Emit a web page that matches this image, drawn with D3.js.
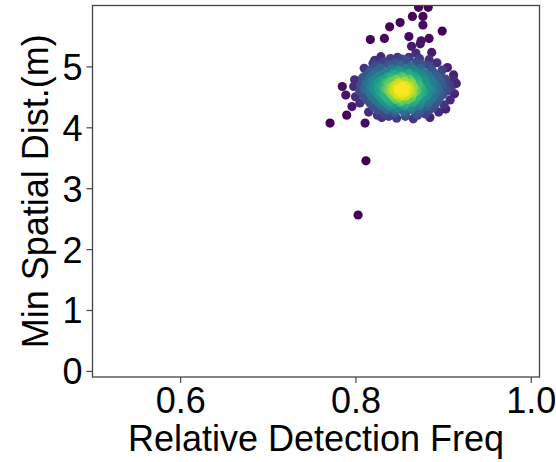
<!DOCTYPE html>
<html>
<head>
<meta charset="utf-8">
<script src="https://cdn.jsdelivr.net/npm/d3@7"></script>
<style>
  html, body { margin: 0; padding: 0; background: #fff; }
  svg { display: block; font-family: "Liberation Sans", Arial, Helvetica, sans-serif; }
</style>
</head>
<body>
<svg id="chart" width="556" height="462"></svg>
<script>
// Axis ticks
const xTicks = [0.6, 0.8, 1.0];
const yTicks = [0, 1, 2, 3, 4, 5];

// Isolated runs above / around the main cluster: [relative detection freq, min spatial dist]
const strayPoints = [
  [0.872,5.97],[0.883,5.97],[0.865,5.82],[0.877,5.82],[0.851,5.72],[0.839,5.65],
  [0.877,5.68],[0.899,5.58],[0.817,5.44],[0.833,5.46],[0.861,5.49],[0.875,5.42],
  [0.884,5.46],[0.864,5.33],[0.874,5.37],[0.869,5.22],[0.887,5.23],[0.829,5.16],
  [0.840,5.13],[0.853,5.12],[0.861,5.15],[0.884,5.11],[0.899,4.94],[0.817,4.91],
  [0.785,4.67],[0.798,4.67],[0.789,4.53],[0.808,4.81],[0.796,4.34],[0.790,4.20],
  [0.771,4.07],[0.811,4.07],[0.912,4.78],[0.901,4.37],[0.909,4.64],[0.825,4.20],
  [0.838,4.18],[0.857,4.18],[0.871,4.20],[0.812,3.45],[0.803,2.56]
];

// Sparse runs on the rim of the main cluster
const rimPoints = [
  [0.822,5.10],[0.848,5.15],[0.873,5.13],[0.893,5.06],[0.905,4.98],[0.912,4.86],
  [0.915,4.72],[0.913,4.55],[0.908,4.45],[0.903,4.30],[0.895,4.25],[0.885,4.16],
  [0.866,4.14],[0.847,4.15],[0.830,4.16],[0.815,4.25],[0.805,4.40],[0.800,4.50],
  [0.799,4.78],[0.810,4.97],[0.820,5.05]
];

// Runs inside the main cluster
const corePoints = [
  [0.832,5.08],[0.845,5.06],[0.858,5.09],[0.869,5.07],
  [0.824,5.01],[0.838,5.03],[0.851,5.02],[0.863,5.00],[0.876,5.03],[0.884,5.01],
  [0.818,4.95],[0.829,4.97],[0.841,4.96],[0.849,4.94],[0.858,4.97],[0.866,4.95],[0.874,4.97],[0.887,4.95],
  [0.815,4.89],[0.823,4.91],[0.834,4.90],[0.843,4.88],[0.852,4.91],[0.861,4.89],[0.869,4.91],[0.878,4.89],[0.889,4.90],[0.897,4.88],
  [0.811,4.84],[0.820,4.86],[0.828,4.85],[0.837,4.83],[0.845,4.86],[0.853,4.84],[0.860,4.86],[0.867,4.84],[0.875,4.86],[0.883,4.85],[0.892,4.84],
  [0.808,4.79],[0.816,4.81],[0.824,4.80],[0.832,4.78],[0.840,4.81],[0.847,4.79],[0.855,4.81],[0.862,4.79],[0.870,4.81],[0.878,4.80],[0.886,4.78],[0.895,4.81],[0.903,4.79],
  [0.812,4.74],[0.819,4.76],[0.827,4.75],[0.835,4.73],[0.842,4.76],[0.849,4.74],[0.856,4.76],[0.864,4.74],[0.871,4.76],[0.880,4.75],[0.888,4.73],[0.897,4.76],
  [0.806,4.69],[0.814,4.71],[0.822,4.70],[0.830,4.68],[0.838,4.71],[0.845,4.69],[0.851,4.71],[0.857,4.69],[0.864,4.71],[0.872,4.70],[0.881,4.68],[0.890,4.71],[0.899,4.69],[0.907,4.70],
  [0.810,4.64],[0.818,4.66],[0.826,4.65],[0.834,4.63],[0.841,4.66],[0.848,4.64],[0.854,4.66],[0.860,4.64],[0.867,4.66],[0.875,4.65],[0.884,4.63],[0.893,4.66],[0.902,4.64],
  [0.805,4.59],[0.813,4.61],[0.821,4.60],[0.829,4.58],[0.837,4.61],[0.844,4.59],[0.850,4.61],[0.856,4.59],[0.863,4.61],[0.870,4.60],[0.878,4.58],[0.887,4.61],[0.896,4.59],[0.905,4.60],
  [0.809,4.54],[0.817,4.56],[0.825,4.55],[0.833,4.53],[0.840,4.56],[0.847,4.54],[0.853,4.56],[0.859,4.54],[0.866,4.56],[0.874,4.55],[0.882,4.53],[0.891,4.56],[0.900,4.54],
  [0.811,4.49],[0.819,4.51],[0.828,4.50],[0.836,4.48],[0.843,4.51],[0.850,4.49],[0.857,4.51],[0.864,4.49],[0.871,4.51],[0.879,4.50],[0.888,4.48],[0.897,4.51],
  [0.814,4.44],[0.822,4.46],[0.831,4.45],[0.839,4.43],[0.846,4.46],[0.853,4.44],[0.860,4.46],[0.868,4.44],[0.876,4.46],[0.885,4.45],[0.894,4.43],
  [0.817,4.39],[0.826,4.41],[0.835,4.40],[0.843,4.38],[0.851,4.41],[0.858,4.39],[0.866,4.41],[0.874,4.39],[0.883,4.40],[0.891,4.38],
  [0.821,4.33],[0.830,4.35],[0.839,4.34],[0.848,4.32],[0.856,4.35],[0.864,4.33],[0.873,4.35],[0.882,4.34],[0.889,4.32],
  [0.826,4.27],[0.836,4.29],[0.846,4.28],[0.855,4.26],[0.864,4.29],[0.874,4.27],[0.884,4.28],
  [0.833,4.22],[0.845,4.23],[0.857,4.21],[0.869,4.23],[0.880,4.22],
  [0.848,4.62],[0.852,4.58],[0.856,4.64],[0.860,4.60],[0.854,4.67],[0.849,4.55],[0.845,4.66],
  [0.858,4.53],[0.862,4.68],[0.851,4.71],[0.843,4.59],[0.864,4.57],[0.855,4.61],[0.847,4.69],
  [0.859,4.65],[0.853,4.52],[0.841,4.63],[0.866,4.63],[0.850,4.64],[0.857,4.57]
];

const svg = d3.select("#chart");
const plotLeft = 92.5, plotRight = 539.5, plotTop = 5.5, plotBottom = 377;

const x = d3.scaleLinear().domain([0.5, 1.01]).range([plotLeft, plotRight]);
const y = d3.scaleLinear().domain([-0.1, 6.0]).range([plotBottom, plotTop]);

// Points in screen space with a Gaussian kernel density estimate for colouring
const pts = strayPoints.concat(rimPoints, corePoints)
  .map(d => ({ f: d[0], m: d[1], px: x(d[0]), py: y(d[1]) }));
const bw = 12;
pts.forEach(p => {
  let s = 0;
  pts.forEach(q => {
    const dx = p.px - q.px, dy = p.py - q.py;
    s += Math.exp(-(dx * dx + dy * dy) / (2 * bw * bw));
  });
  p.density = s;
});
const dMax = d3.max(pts, p => p.density);
const dMin = d3.min(pts, p => p.density);
const level = d3.scalePow().exponent(1.5).domain([dMin, dMax]).range([0, 1]);
const color = d => d3.interpolateViridis(level(d));
pts.sort((a, b) => a.density - b.density);

const clipId = "plot-clip";
svg.append("clipPath").attr("id", clipId)
  .append("rect").attr("x", plotLeft).attr("y", plotTop)
  .attr("width", plotRight - plotLeft).attr("height", plotBottom - plotTop);

svg.append("g").attr("clip-path", `url(#${clipId})`)
  .selectAll("circle").data(pts).join("circle")
  .attr("cx", d => x(d.f))
  .attr("cy", d => y(d.m))
  .attr("r", 4.6)
  .attr("fill", d => color(d.density));

// Axes
const xAxis = svg.append("g").attr("transform", `translate(0,${plotBottom})`)
  .call(d3.axisBottom(x).tickValues(xTicks).tickFormat(d3.format(".1f")).tickSize(6).tickPadding(6));
const yAxis = svg.append("g").attr("transform", `translate(${plotLeft},0)`)
  .call(d3.axisLeft(y).tickValues(yTicks).tickFormat(d3.format("d")).tickSize(6).tickPadding(4));

[xAxis, yAxis].forEach(g => {
  g.select(".domain").remove();
  g.selectAll(".tick line").attr("stroke", "#444").attr("stroke-width", 1.2);
  g.selectAll(".tick text").attr("fill", "#000").style("font-size", "36px")
    .style("font-family", '"Liberation Sans", Arial, Helvetica, sans-serif');
});
xAxis.selectAll(".tick text").attr("dy", null).attr("y", 36);
yAxis.selectAll(".tick text").attr("dy", "0.36em");

// Plot frame
svg.append("rect")
  .attr("x", plotLeft).attr("y", plotTop)
  .attr("width", plotRight - plotLeft).attr("height", plotBottom - plotTop)
  .attr("fill", "none").attr("stroke", "#444").attr("stroke-width", 1.3);

// Axis titles
svg.append("text")
  .attr("x", (plotLeft + plotRight) / 2).attr("y", 451)
  .attr("text-anchor", "middle")
  .style("font-size", "36px").attr("fill", "#000")
  .text("Relative Detection Freq");

svg.append("text")
  .attr("transform", `translate(48,${(plotTop + plotBottom) / 2}) rotate(-90)`)
  .attr("text-anchor", "middle")
  .style("font-size", "36px").attr("fill", "#000")
  .text("Min Spatial Dist.(m)");
</script>
</body>
</html>
